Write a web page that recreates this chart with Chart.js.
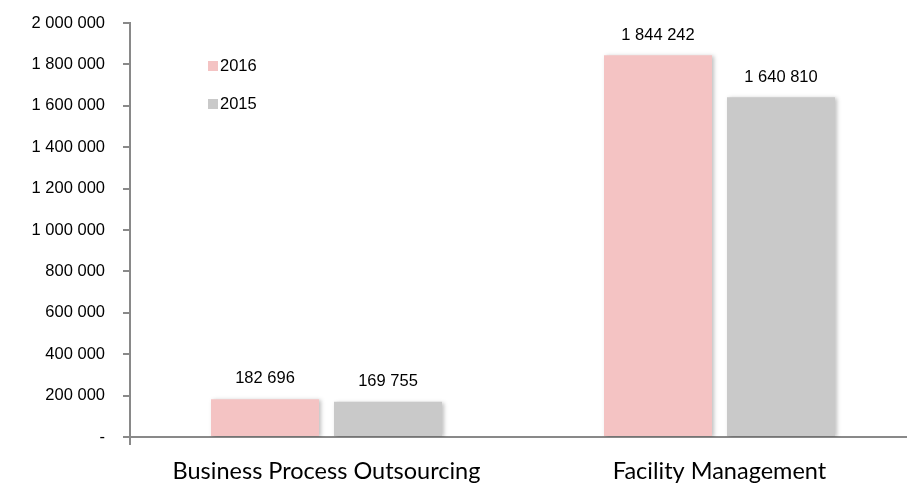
<!DOCTYPE html>
<html>
<head>
<meta charset="utf-8">
<script src="https://cdn.jsdelivr.net/npm/chart.js@4"></script>
<style>
  html, body { margin: 0; padding: 0; background: #fff; overflow: hidden; }
  #wrap { width: 916px; height: 484px; }
</style>
</head>
<body>
<div id="wrap"><canvas id="chart"></canvas></div>
<script>
const categories = ['Business Process Outsourcing', 'Facility Management'];
const values2016 = [182696, 1844242];
const values2015 = [169755, 1640810];
const seriesLabels = ['2016', '2015'];
const seriesColors = ['#F4C3C3', '#C9C9C9'];

const fmt = (v) => v === 0 ? '-' : Math.round(v).toString().replace(/\B(?=(\d{3})+(?!\d))/g, ' ');

// value labels above bars, small legend, bar shadow
const extras = {
  id: 'extras',
  beforeDatasetsDraw(chart) {
    const ctx = chart.ctx;
    ctx.save();
    ctx.shadowColor = 'rgba(0,0,0,0.25)';
    ctx.shadowBlur = 4;
    ctx.shadowOffsetX = 2;
    ctx.shadowOffsetY = 1;
  },
  afterDatasetsDraw(chart) {
    const ctx = chart.ctx;
    ctx.restore();
    ctx.save();
    ctx.font = '16.5px "Liberation Sans", Arial, sans-serif';
    ctx.fillStyle = '#000';
    ctx.textAlign = 'center';
    ctx.textBaseline = 'bottom';
    chart.data.datasets.forEach((ds, i) => {
      chart.getDatasetMeta(i).data.forEach((bar, j) => {
        ctx.fillText(fmt(ds.data[j]), bar.x, bar.y - 12);
      });
    });
    // legend
    ctx.textAlign = 'left';
    ctx.textBaseline = 'middle';
    chart.data.datasets.forEach((ds, i) => {
      const y = 66 + i * 38;
      ctx.fillStyle = ds.backgroundColor;
      ctx.fillRect(208, y - 5, 10, 10);
      ctx.fillStyle = '#000';
      ctx.fillText(ds.label, 220, y);
    });
    // origin tick below x axis
    const a = chart.chartArea;
    ctx.strokeStyle = '#898989';
    ctx.lineWidth = 2;
    ctx.beginPath();
    ctx.moveTo(a.left, a.bottom);
    ctx.lineTo(a.left, a.bottom + 8);
    ctx.stroke();
    ctx.restore();
  }
};

new Chart(document.getElementById('chart'), {
  type: 'bar',
  data: {
    labels: categories,
    datasets: [
      { label: seriesLabels[0], data: values2016, backgroundColor: seriesColors[0] },
      { label: seriesLabels[1], data: values2015, backgroundColor: seriesColors[1] },
    ],
  },
  options: {
    responsive: true,
    maintainAspectRatio: false,
    animation: false,
    categoryPercentage: 0.626,
    barPercentage: 0.878,
    layout: { padding: { top: 23, right: 0, left: 0, bottom: 0 } },
    plugins: {
      legend: { display: false },
      tooltip: { enabled: false },
    },
    scales: {
      x: {
        grid: { display: false, drawTicks: false },
        border: { color: '#898989', width: 2 },
        ticks: {
          color: '#000',
          font: { family: 'Lato, "Open Sans", sans-serif', size: 23.5 },
          padding: 20,
          maxRotation: 0,
        },
        afterFit(axis) { axis.height = 47; },
      },
      y: {
        min: 0,
        max: 2000000,
        grid: { display: true, drawOnChartArea: false, tickLength: 7, color: '#898989', lineWidth: 2 },
        border: { color: '#898989', width: 2 },
        ticks: {
          stepSize: 200000,
          color: '#000',
          font: { family: '"Liberation Sans", Arial, sans-serif', size: 16.5 },
          padding: 18,
          callback: (v) => fmt(v),
        },
        afterFit(axis) { axis.width = 130; axis.paddingTop = 0; axis.paddingBottom = 0; },
      },
    },
  },
  plugins: [extras],
});
</script>
</body>
</html>
